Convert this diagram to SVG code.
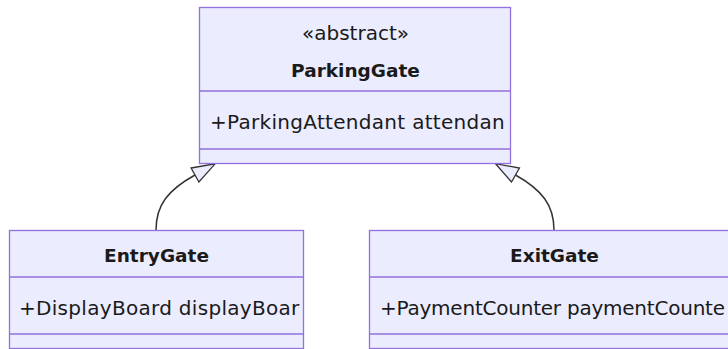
<svg xmlns="http://www.w3.org/2000/svg" width="728" height="349" viewBox="0 0 728 349">
<style>
.box{fill:#ECECFF;stroke:#9370DB;stroke-width:1.3}
.div{stroke:#9370DB;stroke-width:1.3}
.t{font-family:"DejaVu Sans",Verdana,sans-serif;font-size:20px;fill:#1a1a1a}
.a{letter-spacing:0.3px}
.b{font-weight:bold;font-size:18.5px;text-anchor:middle}
.c{text-anchor:middle}
.edge{fill:none;stroke:#333;stroke-width:1.5}
</style>
<defs>
<marker id="ext" markerUnits="userSpaceOnUse" viewBox="-1 -1 25 18" markerWidth="25" markerHeight="18" refX="0" refY="8" orient="auto">
<path d="M0,0 L23,8 L0,16 Z" fill="#ECECFF" stroke="#333" stroke-width="1.3"/>
</marker>
</defs>
<g id="connectors">
<path class="edge" d="M156,230 C156,205 168,190 195,175" marker-end="url(#ext)"/>
<path class="edge" d="M554,230 C554,205 542,190 515.5,175" marker-end="url(#ext)"/>
</g>
<g id="ParkingGate">
<rect class="box" x="199.5" y="7.5" width="311" height="156"/>
<line class="div" x1="199.5" y1="91" x2="510.5" y2="91"/>
<line class="div" x1="199.5" y1="149" x2="510.5" y2="149"/>
<text class="t c" x="355.5" y="40">«abstract»</text>
<text class="t b" x="355.5" y="77">ParkingGate</text>
<text class="t a" x="210" y="129">+ParkingAttendant attendan</text>
</g>
<g id="EntryGate">
<rect class="box" x="9.5" y="230.5" width="294" height="118"/>
<line class="div" x1="9.5" y1="277" x2="303.5" y2="277"/>
<line class="div" x1="9.5" y1="334" x2="303.5" y2="334"/>
<text class="t b" x="156.5" y="262">EntryGate</text>
<text class="t a" x="19" y="315">+DisplayBoard displayBoar</text>
</g>
<g id="ExitGate">
<rect class="box" x="369.5" y="230.5" width="371" height="118"/>
<line class="div" x1="369.5" y1="277" x2="740" y2="277"/>
<line class="div" x1="369.5" y1="334" x2="740" y2="334"/>
<text class="t b" x="554.5" y="262">ExitGate</text>
<text class="t" x="380" y="315" textLength="345" lengthAdjust="spacing">+PaymentCounter paymentCounte</text>
</g>
</svg>
